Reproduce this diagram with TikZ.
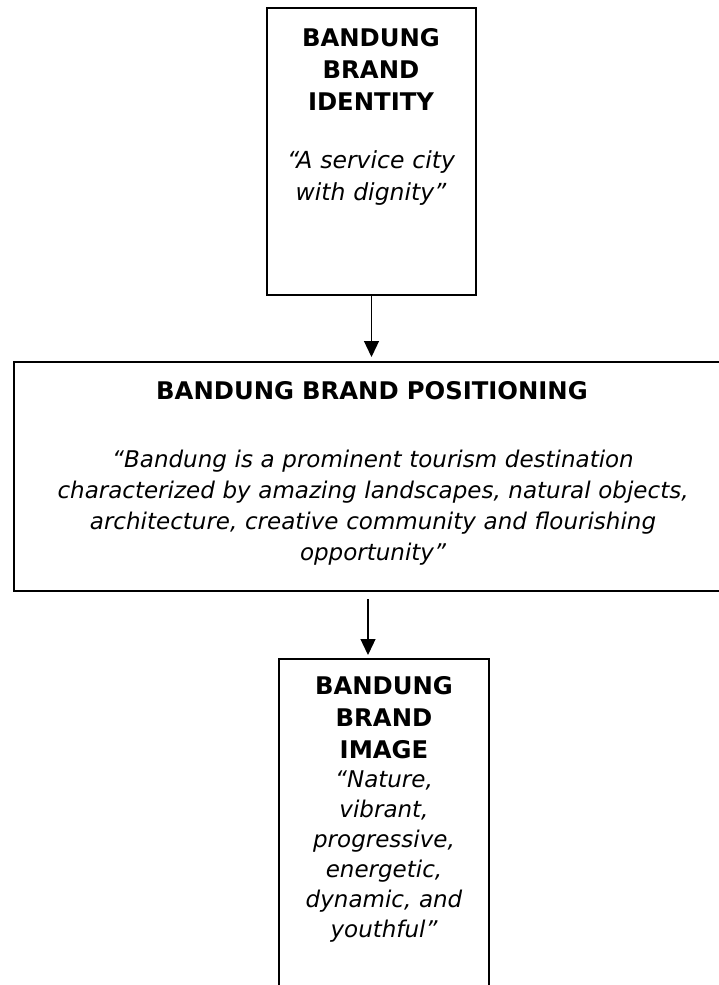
\documentclass[tikz,border=0pt]{standalone}
\usepackage{fontspec}
\setmainfont{DejaVu Sans}
\usetikzlibrary{arrows.meta}
\begin{document}
\begin{tikzpicture}[x=1pt,y=-1pt,
  boxshape/.style={draw,line width=1.5pt,rectangle,inner sep=0pt},
  titletext/.style={anchor=base,align=center,inner sep=0pt,text width=300pt,
    font=\fontsize{24.3}{32}\selectfont\bfseries},
  quotetext/.style={anchor=base,align=center,inner sep=0pt,text width=690pt,
    font=\fontsize{23}{30}\selectfont\itshape},
  link/.style={line width=1.3pt,-{Triangle[width=15pt,length=16pt]}}]
\useasboundingbox (0,0) rectangle (719,985);

% boxes
\node[boxshape,minimum width=209pt,minimum height=287pt] (box1) at (371.5,151.5) {};
\node[boxshape,minimum width=711pt,minimum height=229pt] (box2) at (369.5,476.5) {};
\node[boxshape,minimum width=210pt,minimum height=336pt] (box3) at (384,827) {};

% box 1 text
\node[titletext] (t1) at (371,46) {BANDUNG\\BRAND\\IDENTITY};
\node[quotetext,text width=200pt,font=\fontsize{23.5}{32}\selectfont\itshape] (q1) at (371,168) {“A service city\\with dignity”};

% box 2 text
\node[titletext,text width=690pt] (t2) at (372,399) {BANDUNG BRAND POSITIONING};
\node[quotetext,font=\fontsize{23}{31}\selectfont\itshape] (q2) at (373,467) {“Bandung is a prominent tourism destination\\characterized by amazing landscapes, natural objects,\\architecture, creative community and flourishing\\opportunity”};

% box 3 text
\node[titletext,text width=200pt] (t3) at (384,694) {BANDUNG\\BRAND\\IMAGE};
\node[quotetext,text width=200pt] (q3) at (384,787) {“Nature,\\vibrant,\\progressive,\\energetic,\\dynamic, and\\youthful”};

% connectors
\coordinate (a1e) at (371.5,357);
\coordinate (a2s) at (368,599);
\coordinate (a2e) at (368,655);
\draw[link] (box1.south) -- (a1e);
\draw[link] (a2s) -- (a2e);
\end{tikzpicture}
\end{document}
